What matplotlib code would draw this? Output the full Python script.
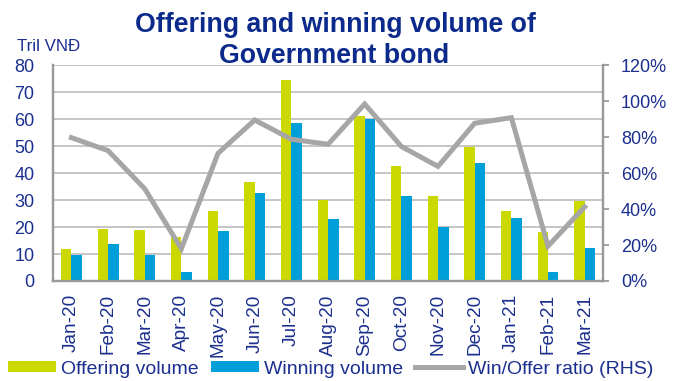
import matplotlib
matplotlib.use("Agg")
import matplotlib.pyplot as plt
import numpy as np
from matplotlib.patches import Patch
from matplotlib.lines import Line2D

months = ["Jan-20", "Feb-20", "Mar-20", "Apr-20", "May-20", "Jun-20", "Jul-20",
          "Aug-20", "Sep-20", "Oct-20", "Nov-20", "Dec-20", "Jan-21", "Feb-21", "Mar-21"]
offering = [12.0, 19.1, 19.0, 16.4, 26.0, 36.6, 74.5, 29.9, 61.2, 42.5, 31.6, 49.8, 26.0, 18.0, 29.7]
winning = [9.6, 13.8, 9.6, 3.2, 18.5, 32.6, 58.6, 22.9, 60.2, 31.6, 20.0, 43.7, 23.5, 3.4, 12.3]
ratio = [79.7, 72.5, 51.3, 17.9, 71.0, 89.5, 78.8, 76.0, 98.4, 74.8, 63.7, 87.7, 90.8, 19.4, 41.2]
left_ticks = [0, 10, 20, 30, 40, 50, 60, 70, 80]
right_ticks = [0, 20, 40, 60, 80, 100, 120]

NAVY = "#1B2F8E"
TITLE = "#0B2A8C"
YELLOW = "#CCD900"
BLUE = "#009FD9"
GREY = "#A6A6A6"
AXIS = "#999999"

plt.rcParams["font.family"] = ["Liberation Sans", "DejaVu Sans"]

fig = plt.figure(figsize=(6.73, 3.81), dpi=100)
ax = fig.add_axes([0.0788, 0.2625, 0.8172, 0.5665])
ax2 = ax.twinx()

x = np.arange(len(months))
w = 0.286
ax.bar(x - w / 2, offering, width=w, color=YELLOW, zorder=3)
ax.bar(x + w / 2, winning, width=w, color=BLUE, zorder=3)

ax.set_xlim(-0.5, len(months) - 0.5)
ax.set_ylim(0, 80)
ax.set_yticks(left_ticks)
ax.yaxis.grid(True, color="#C0C0C0", linewidth=1.3, zorder=0)
ax.set_axisbelow(True)
ax.set_xticks(x)
ax.set_xticklabels(months, rotation=90, color=NAVY, fontsize=13.7)
ax.tick_params(axis="x", length=0, pad=9.5)
ax.tick_params(axis="y", length=0, pad=13.5, labelcolor=NAVY, labelsize=13)

ax2.plot(x, ratio, color=GREY, linewidth=3.6, solid_joinstyle="miter", zorder=4)
ax2.set_ylim(0, 120)
ax2.set_yticks(right_ticks)
ax2.set_yticklabels([f"{t}%" for t in right_ticks])
ax2.tick_params(axis="y", direction="out", length=4, width=1.3, color=AXIS,
                pad=9, labelcolor=NAVY, labelsize=13)

for a in (ax, ax2):
    a.spines["top"].set_visible(False)
    for s in ("left", "right", "bottom"):
        a.spines[s].set_color(AXIS)
        a.spines[s].set_linewidth(1.6)

title_kw = dict(ha="center", va="baseline", fontsize=19.3, fontweight="bold", color=TITLE)
fig.text(0.499, 0.916, "Offering and winning volume of", **title_kw)
fig.text(0.497, 0.835, "Government bond", **title_kw)
fig.text(0.025, 0.866, "Tril VNĐ", ha="left", va="baseline", fontsize=12.2, color=NAVY)

handles = [Patch(facecolor=YELLOW, edgecolor="none"),
           Patch(facecolor=BLUE, edgecolor="none"),
           Line2D([0], [0], color=GREY, linewidth=3.6)]
labels = ["Offering volume", "Winning volume", "Win/Offer ratio (RHS)"]
leg = fig.legend(handles, labels, loc="center left", bbox_to_anchor=(0.0, 0.031),
                 ncol=3, frameon=False, fontsize=14.0, handlelength=2.5,
                 handleheight=0.5, handletextpad=0.25, columnspacing=0.6,
                 borderaxespad=0)
for t in leg.get_texts():
    t.set_color(NAVY)

fig.savefig("out.png", dpi=100)
